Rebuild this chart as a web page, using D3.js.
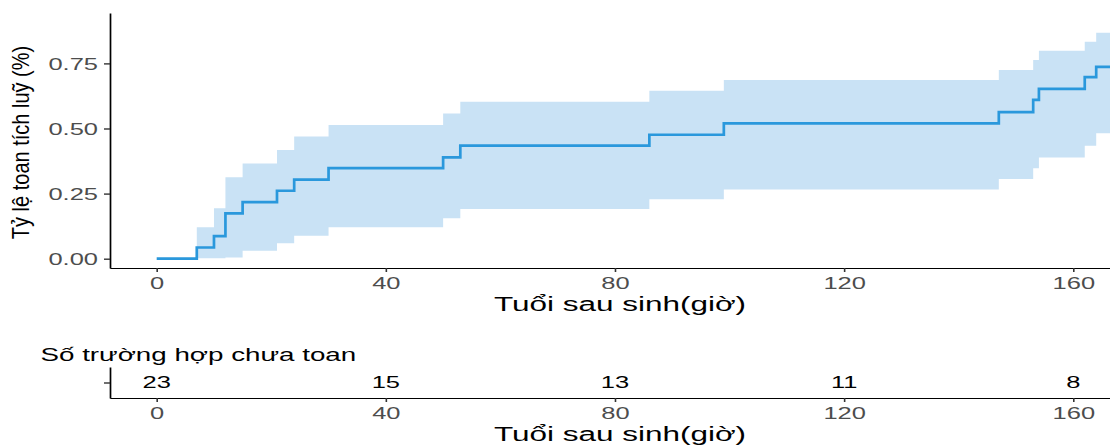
<!DOCTYPE html>
<html><head><meta charset="utf-8">
<script src="https://cdn.jsdelivr.net/npm/d3@7"></script>
<style>
body{margin:0;background:#fff}
text{font-family:"Liberation Sans", Arial, Helvetica, sans-serif}
</style>
</head><body>
<svg id="c" width="1110" height="445"></svg>
<script>
// ---- data ----
const times   = [0, 7, 10, 12, 15, 21, 24, 30, 50, 53, 86, 99, 147, 153, 154, 162, 164, 172];
const cumInc  = [0, 0.043, 0.087, 0.174, 0.217, 0.261, 0.304, 0.348, 0.389, 0.434, 0.476, 0.520, 0.563, 0.610, 0.652, 0.697, 0.737, 0.737];
const upperCI = [0, 0.121, 0.194, 0.313, 0.366, 0.417, 0.469, 0.513, 0.558, 0.603, 0.645, 0.686, 0.725, 0.763, 0.799, 0.833, 0.868, 0.868];
const lowerCI = [0, 0.002, 0.002, 0.005, 0.031, 0.059, 0.088, 0.121, 0.155, 0.191, 0.228, 0.266, 0.306, 0.347, 0.389, 0.434, 0.482, 0.482];
const xTicks  = [0, 40, 80, 120, 160];
const yTicks  = [0, 0.25, 0.5, 0.75];
const riskTimes = [0, 40, 80, 120, 160];
const riskN     = [23, 15, 13, 11, 8];
const yTitle = "Tỷ lệ toan tích luỹ (%)";
const xTitle = "Tuổi sau sinh(giờ)";
const riskTitle = "Số trường hợp chưa toan";

const SX = 1.5; // horizontal stretch of the reference text
const svg = d3.select("#c");
svg.append("rect").attr("width",1110).attr("height",445).attr("fill","#fff");

const x = d3.scaleLinear().domain([-8.15, 169.9]).range([110, 1130]);
const y = d3.scaleLinear().domain([-0.0357, 0.9435]).range([268, 13]);

const data = times.map((t,i)=>({t, s:cumInc[i], lo:lowerCI[i], hi:upperCI[i]}));

svg.append("clipPath").attr("id","clip").append("rect")
  .attr("x",110).attr("y",0).attr("width",1000).attr("height",268);

const panel = svg.append("g").attr("clip-path","url(#clip)");
panel.append("path").datum(data)
  .attr("d", d3.area().x(d=>x(d.t)).y0(d=>y(d.lo)).y1(d=>y(d.hi)).curve(d3.curveStepAfter))
  .attr("fill","#c9e2f5");
panel.append("path").datum(data)
  .attr("d", d3.line().x(d=>x(d.t)).y(d=>y(d.s)).curve(d3.curveStepAfter))
  .attr("fill","none").attr("stroke","#2a98dc").attr("stroke-width",2.7);

// y axis
const gY = svg.append("g").attr("transform","translate(110,0)")
  .call(d3.axisLeft(y).tickValues(yTicks).tickFormat(d3.format(".2f")).tickSize(6).tickSizeOuter(0));
gY.select(".domain").attr("stroke","#000").attr("stroke-width",1.7);
gY.selectAll(".tick line").attr("stroke","#333").attr("stroke-width",1.4);
gY.selectAll(".tick text").attr("x",-8).attr("dy","0.34em")
  .attr("transform",`scale(${SX},1)`).attr("font-size",17).attr("fill","#4d4d4d");

// x axis
const gX = svg.append("g").attr("transform","translate(0,268)")
  .call(d3.axisBottom(x).tickValues(xTicks).tickSize(4).tickSizeOuter(0));
gX.select(".domain").attr("stroke","#000").attr("stroke-width",1.1);
gX.selectAll(".tick line").attr("stroke","#333").attr("stroke-width",1.6);
gX.selectAll(".tick text").attr("y",21.5).attr("dy",0)
  .attr("transform",`scale(${SX},1)`).attr("font-size",17).attr("fill","#4d4d4d");

svg.append("text").attr("transform",`translate(620,311) scale(${SX},1)`)
  .attr("text-anchor","middle").attr("font-size",21).attr("fill","#000").text(xTitle);
svg.append("text").attr("transform","translate(29,142.5) rotate(-90) scale(1,1.2)")
  .attr("text-anchor","middle").attr("font-size",20).attr("fill","#000").text(yTitle);

// risk table
const yr = d3.scaleLinear().domain([0,1]).range([398, 367]);
const gRY = svg.append("g").attr("transform","translate(110,0)")
  .call(d3.axisLeft(yr).tickValues([0.5]).tickFormat(()=>"").tickSize(6).tickSizeOuter(0));
gRY.select(".domain").attr("stroke","#000").attr("stroke-width",1.7);
gRY.selectAll(".tick line").attr("stroke","#333").attr("stroke-width",1.4);

const gRX = svg.append("g").attr("transform","translate(0,398)")
  .call(d3.axisBottom(x).tickValues(xTicks).tickSize(4).tickSizeOuter(0));
gRX.select(".domain").attr("stroke","#000").attr("stroke-width",1.1);
gRX.selectAll(".tick line").attr("stroke","#333").attr("stroke-width",1.6);
gRX.selectAll(".tick text").attr("y",21.5).attr("dy",0)
  .attr("transform",`scale(${SX},1)`).attr("font-size",17).attr("fill","#4d4d4d");

svg.append("g").selectAll("text").data(riskTimes).join("text")
  .attr("transform",(d)=>`translate(${x(d)},388) scale(${SX},1)`)
  .attr("text-anchor","middle").attr("font-size",17).attr("fill","#000")
  .text((d,i)=>riskN[i]);

svg.append("text").attr("transform",`translate(40.5,361) scale(${SX},1)`)
  .attr("font-size",18.5).attr("fill","#000").text(riskTitle);

svg.append("text").attr("transform",`translate(620,441) scale(${SX},1)`)
  .attr("text-anchor","middle").attr("font-size",21).attr("fill","#000").text(xTitle);
</script>
</body></html>
